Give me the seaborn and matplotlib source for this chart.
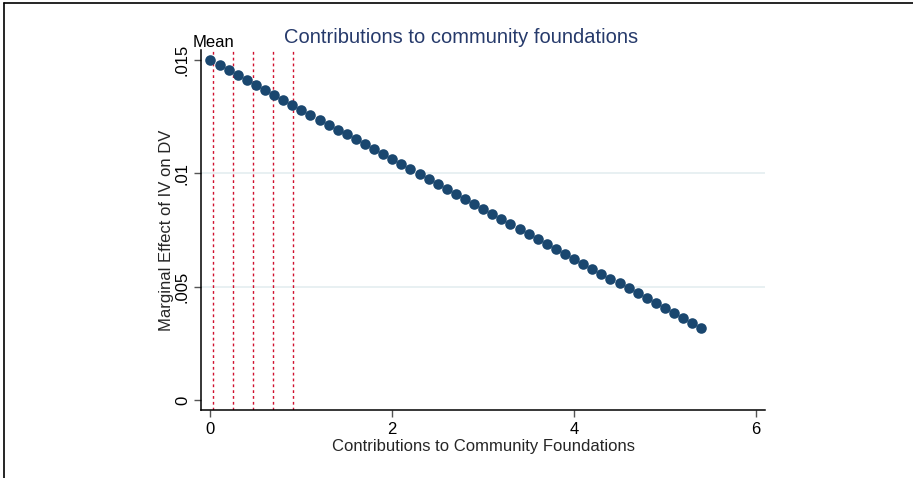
import matplotlib
matplotlib.use("Agg")
import matplotlib.pyplot as plt
from matplotlib.lines import Line2D
import seaborn as sns
import pandas as pd

# Values of the moderator at which the marginal effect was evaluated
moderator = [0.0, 0.1, 0.2, 0.3, 0.4, 0.5, 0.6, 0.7, 0.8, 0.9,
             1.0, 1.1, 1.2, 1.3, 1.4, 1.5, 1.6, 1.7, 1.8, 1.9,
             2.0, 2.1, 2.2, 2.3, 2.4, 2.5, 2.6, 2.7, 2.8, 2.9,
             3.0, 3.1, 3.2, 3.3, 3.4, 3.5, 3.6, 3.7, 3.8, 3.9,
             4.0, 4.1, 4.2, 4.3, 4.4, 4.5, 4.6, 4.7, 4.8, 4.9,
             5.0, 5.1, 5.2, 5.3, 5.4]

# Marginal effect of IV on DV at each moderator value
marginal_effect = [0.01500, 0.01478, 0.01456, 0.01434, 0.01412, 0.01391, 0.01369, 0.01347, 0.01325, 0.01303,
                   0.01281, 0.01259, 0.01237, 0.01215, 0.01193, 0.01172, 0.01150, 0.01128, 0.01106, 0.01084,
                   0.01062, 0.01040, 0.01018, 0.00996, 0.00974, 0.00953, 0.00931, 0.00909, 0.00887, 0.00865,
                   0.00843, 0.00821, 0.00799, 0.00777, 0.00755, 0.00734, 0.00712, 0.00690, 0.00668, 0.00646,
                   0.00624, 0.00602, 0.00580, 0.00558, 0.00536, 0.00515, 0.00493, 0.00471, 0.00449, 0.00427,
                   0.00405, 0.00383, 0.00361, 0.00339, 0.00317]

# Mean of the moderator and the reference points above it
reference_lines = [0.03, 0.25, 0.47, 0.69, 0.91]
reference_label = "Mean"

x_ticks = [0, 2, 4, 6]
x_tick_labels = ["0", "2", "4", "6"]
y_ticks = [0, 0.005, 0.01, 0.015]
y_tick_labels = ["0", ".005", ".01", ".015"]

title = "Contributions to community foundations"
x_title = "Contributions to Community Foundations"
y_title = "Marginal Effect of IV on DV"

df = pd.DataFrame({"moderator": moderator, "effect": marginal_effect})

sns.set_style("white")
plt.rcParams["font.family"] = ["Liberation Sans", "DejaVu Sans"]

W, H = 913, 478
fig = plt.figure(figsize=(W / 100, H / 100), dpi=100)
ax = fig.add_axes([201 / W, 1 - 410 / H, (765 - 201) / W, (410 - 50) / H])

navy = "#1a476f"

# light horizontal grid at interior y ticks
for yv in y_ticks[1:-1]:
    ax.axhline(yv, color="#e8f0f2", lw=1.4, zorder=0)

# dotted reference lines
for xv in reference_lines:
    ax.axvline(xv, color="#d0102e", lw=1.0, ls=(0, (2, 2.2)), zorder=1)

sns.scatterplot(data=df, x="moderator", y="effect", ax=ax, color=navy,
                s=58, linewidth=0, zorder=3, legend=False)

ax.set_xlim(-0.104, 6.1)
ax.set_ylim(-0.00044, 0.01544)

ax.set_xticks(x_ticks)
ax.set_xticklabels(x_tick_labels, fontsize=12)
ax.set_yticks(y_ticks)
ax.set_yticklabels(y_tick_labels, fontsize=12, rotation=90, va="center")

ax.tick_params(axis="both", direction="out", length=5, width=1,
               color="#555555", labelcolor="black", pad=3)
ax.tick_params(axis="x", bottom=True, pad=4)
ax.tick_params(axis="y", left=True)

for side in ["top", "right"]:
    ax.spines[side].set_visible(False)
for side in ["left", "bottom"]:
    ax.spines[side].set_color("black")
    ax.spines[side].set_linewidth(1.1)

ax.set_xlabel(x_title, fontsize=12, labelpad=1)
ax.set_ylabel(y_title, fontsize=12, labelpad=1)

ax.text(reference_lines[0], 1.0, reference_label, transform=ax.get_xaxis_transform(),
        ha="center", va="bottom", fontsize=12, color="black")

fig.text(461 / W, 1 - 43 / H, title, ha="center", va="baseline",
         fontsize=14.5, color="#263a6b")

# outer frame (left and top edges)
fig.add_artist(Line2D([3.5 / W, 3.5 / W], [0, 1 - 3 / H], color="black", lw=1.2,
                      transform=fig.transFigure))
fig.add_artist(Line2D([3.5 / W, 1], [1 - 3 / H, 1 - 3 / H], color="black", lw=1.2,
                      transform=fig.transFigure))

fig.savefig("out.png", dpi=100, facecolor="white")
